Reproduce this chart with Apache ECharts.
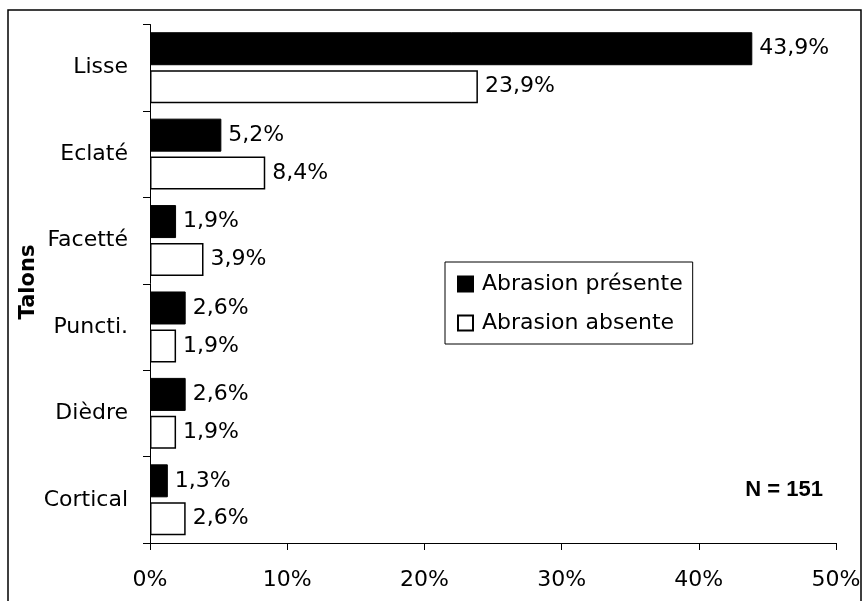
<!DOCTYPE html>
<html>
<head>
<meta charset="utf-8">
<script src="https://cdn.jsdelivr.net/npm/echarts@6/dist/echarts.min.js"></script>
<style>
html,body{margin:0;padding:0;background:#fff;}
#chart{width:864px;height:601px;}
</style>
</head>
<body>
<div id="chart"></div>
<script>
var categories = ['Lisse', 'Eclaté', 'Facetté', 'Puncti.', 'Dièdre', 'Cortical'];
var presente = [43.9, 5.2, 1.9, 2.6, 2.6, 1.3];
var absente = [23.9, 8.4, 3.9, 1.9, 1.9, 2.6];
var seriesNames = ['Abrasion présente', 'Abrasion absente'];
var xTicks = { min: 0, max: 50, interval: 10 };
var axisTitle = 'Talons';
var note = 'N = 151';

var FONT = 'DejaVu Sans';
var FS = 22;
function pct(v) { return v.toFixed(1).replace('.', ',') + '%'; }

var chart = echarts.init(document.getElementById('chart'), null, { renderer: 'canvas' });
var labelCfg = {
  show: true, position: 'right', distance: 7,
  fontFamily: FONT, fontSize: FS, color: '#000',
  formatter: function (p) { return pct(p.value); }
};
chart.setOption({
  animation: false,
  backgroundColor: '#fff',
  textStyle: { fontFamily: FONT },
  grid: { left: 150, right: 28, top: 24.5, bottom: 58, containLabel: false },
  xAxis: {
    type: 'value', min: xTicks.min, max: xTicks.max, interval: xTicks.interval,
    axisLine: { show: true, lineStyle: { color: '#000', width: 1 } },
    axisTick: { show: true, inside: false, length: 7, lineStyle: { color: '#000' } },
    splitLine: { show: false },
    axisLabel: { formatter: '{value}%', fontFamily: FONT, fontSize: FS, color: '#000', margin: 26 }
  },
  yAxis: {
    type: 'category', data: categories, inverse: true,
    axisLine: { show: true, lineStyle: { color: '#000', width: 1 } },
    axisTick: { show: true, length: 7, lineStyle: { color: '#000' } },
    axisLabel: { fontFamily: FONT, fontSize: FS, color: '#000', margin: 22 }
  },
  legend: {
    orient: 'vertical', left: 445, top: 262,
    padding: [11, 10, 10, 12],
    itemWidth: 15, itemHeight: 15, itemGap: 17,
    icon: 'rect',
    borderColor: '#000', borderWidth: 1,
    textStyle: { fontFamily: FONT, fontSize: FS, color: '#000', padding: [0, 0, 0, 4] },
    data: seriesNames
  },
  series: [
    {
      name: seriesNames[0], type: 'bar', data: presente,
      barWidth: 33, barGap: '15%',
      itemStyle: { color: '#000', borderColor: '#000', borderWidth: 1 },
      label: labelCfg
    },
    {
      name: seriesNames[1], type: 'bar', data: absente,
      barWidth: 33, barGap: '15%',
      itemStyle: { color: '#fff', borderColor: '#000', borderWidth: 1.5 },
      label: labelCfg
    }
  ],
  graphic: [
    {
      type: 'rect', silent: true,
      shape: { x: 8, y: 10, width: 853, height: 620 },
      style: { fill: 'none', stroke: '#000', lineWidth: 1.5 }
    },
    {
      type: 'text', x: 29, y: 282, rotation: Math.PI / 2,
      style: { text: axisTitle, font: 'bold 21px "DejaVu Sans"', fill: '#000', align: 'center', verticalAlign: 'middle' }
    },
    {
      type: 'text', right: 41, top: 479,
      style: { text: note, font: 'bold 22px "Liberation Sans"', fill: '#000' }
    }
  ]
});
</script>
</body>
</html>
